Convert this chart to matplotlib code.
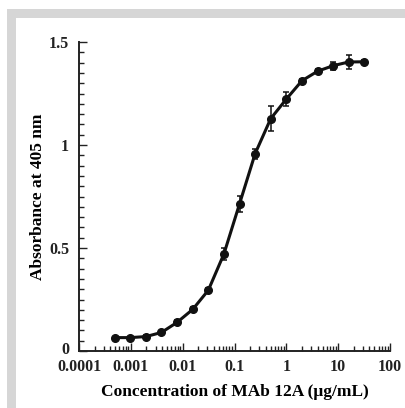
import matplotlib
matplotlib.use("Agg")
import matplotlib.pyplot as plt
import matplotlib.transforms as mtransforms
from matplotlib.patches import Rectangle
from matplotlib.ticker import LogLocator, FixedLocator, MultipleLocator, FixedFormatter

plt.rcParams["font.family"] = ["Liberation Serif", "DejaVu Serif"]
plt.rcParams["font.weight"] = "bold"

# two-fold dilution series of MAb 12A (ug/mL)
conc = [0.000488, 0.000977, 0.00195, 0.0039, 0.0078, 0.015625, 0.03125,
        0.0625, 0.125, 0.25, 0.5, 1, 2, 4, 8, 16, 32]
absorb = [0.065, 0.065, 0.070, 0.090, 0.139, 0.202, 0.295, 0.471, 0.714,
          0.958, 1.128, 1.223, 1.312, 1.358, 1.385, 1.403, 1.404]
err = [0.005, 0.005, 0.006, 0.008, 0.012, 0.010, 0.012, 0.028, 0.037,
       0.024, 0.059, 0.035, 0.010, 0.010, 0.020, 0.032, 0.010]

xticks = [0.0001, 0.001, 0.01, 0.1, 1, 10, 100]
xlabels = ["0.0001", "0.001", "0.01", "0.1", "1", "10", "100"]
yticks = [0, 0.5, 1, 1.5]
ylabels = ["0", "0.5", "1", "1.5"]

fig = plt.figure(figsize=(4.05, 4.08), dpi=100)

# grey frame (top and left bands)
fig.add_artist(Rectangle((7 / 405, 0), 9 / 405, 399 / 408, transform=fig.transFigure,
                         color="#d6d6d6", lw=0))
fig.add_artist(Rectangle((7 / 405, 390 / 408), 398 / 405, 9 / 408, transform=fig.transFigure,
                         color="#d6d6d6", lw=0))

ax = fig.add_axes([79 / 405, 57 / 408, 311 / 405, 309 / 408])
ax.errorbar(conc, absorb, yerr=err, color="#111111", marker="o", markersize=5.5,
            lw=2.2, elinewidth=1.1, capsize=2.5, capthick=1.1)

ax.set_xscale("log")
ax.set_xlim(1e-4, 100)
ax.set_ylim(0, 1.5)

ax.xaxis.set_major_locator(FixedLocator(xticks))
ax.xaxis.set_major_formatter(FixedFormatter(xlabels))
ax.xaxis.set_minor_locator(LogLocator(base=10, subs=range(2, 10), numticks=20))
ax.yaxis.set_major_locator(FixedLocator(yticks))
ax.yaxis.set_major_formatter(FixedFormatter(ylabels))
ax.yaxis.set_minor_locator(MultipleLocator(0.05))

for s in ["top", "right"]:
    ax.spines[s].set_visible(False)
for s in ["left", "bottom"]:
    ax.spines[s].set_linewidth(1.4)
    ax.spines[s].set_color("#222222")

ax.tick_params(which="both", direction="in", colors="#222222", width=1)
ax.tick_params(which="major", length=6, labelsize=11.5, pad=6)
ax.tick_params(axis="y", which="major", pad=7)
ax.tick_params(which="minor", length=3.5)
for lab in ax.get_xticklabels() + ax.get_yticklabels():
    lab.set_fontweight("bold")

# nudge the "0" label up a little so it clears "0.0001"
zero_lab = ax.get_yticklabels()[0]
zero_lab.set_transform(zero_lab.get_transform() +
                       mtransforms.ScaledTranslation(0, 3 / 100, fig.dpi_scale_trans))

ax.set_xlabel("Concentration of MAb 12A (\u03bcg/mL)", fontsize=12.5, fontweight="bold", labelpad=6)
ax.set_ylabel("Absorbance at 405 nm", fontsize=12.5, fontweight="bold", labelpad=2)

fig.savefig("out.png", dpi=100)
